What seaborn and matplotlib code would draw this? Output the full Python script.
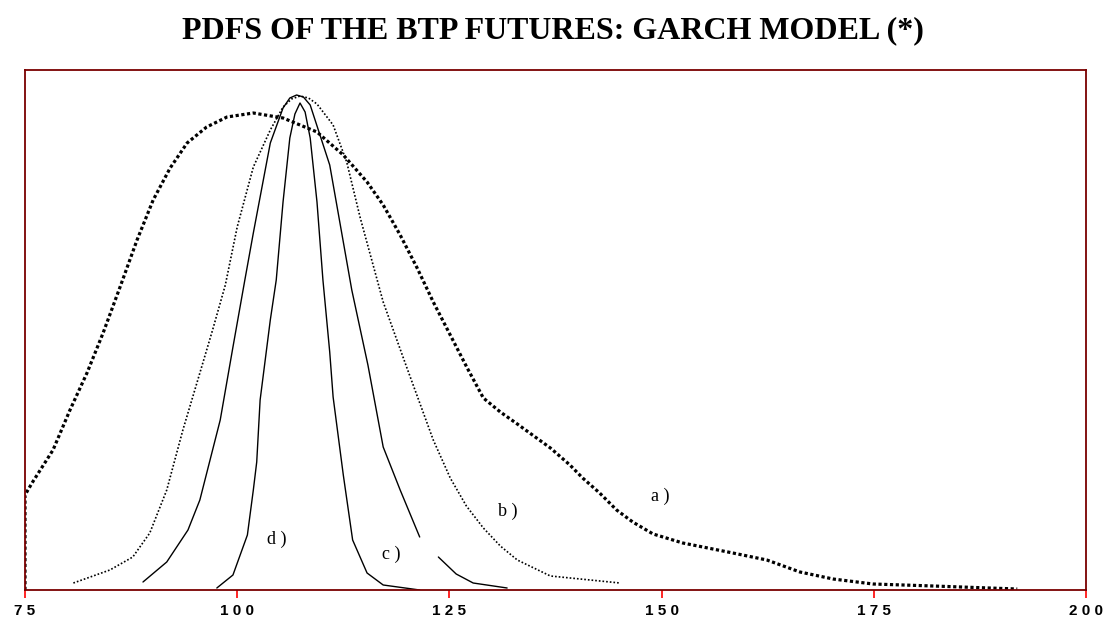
import pandas as pd
import numpy as np
import matplotlib.pyplot as plt
import seaborn as sns

# curves (x = price, y = density height, arbitrary units)
a_x = [75.0, 75.0, 75.9, 78.3, 80.3, 82.3, 84.2, 86.2, 88.2, 90.1, 92.1, 94.1, 96.4, 98.8, 101.9,
       105.4, 109.4, 112.5, 115.3, 117.2, 119.2, 121.2, 123.1, 125.1, 127.1, 129.0, 131.0, 133.0,
       136.9, 139.2, 140.7, 142.7, 144.7, 146.6, 149.0, 152.5, 158.4, 162.4, 166.3, 170.2, 174.9,
       182.0, 191.9]
a_y = [0, 95, 108, 140, 180, 217, 257, 303, 350, 390, 422, 447, 463, 473, 477,
       472, 458, 435, 408, 385, 355, 322, 288, 255, 222, 192, 178, 166,
       142, 125, 112, 97, 80, 68, 56, 47, 37, 30, 18, 11, 6,
       4, 1]

b_x = [80.7, 85.0, 87.7, 89.7, 91.7, 93.6, 95.6, 97.1, 98.6, 100.0, 101.9, 103.9, 105.4, 106.4,
       107.4, 108.4, 109.4, 111.3, 112.9, 114.5, 117.2, 120.0, 123.1, 125.1, 127.0, 129.0, 131.0,
       133.0, 136.9, 145.1]
b_y = [7, 20, 33, 57, 100, 160, 217, 260, 305, 363, 423, 460, 483, 491,
       494, 492, 486, 465, 428, 372, 288, 222, 150, 112, 84, 62, 44,
       30, 14, 7]

c_x = [88.9, 91.7, 94.2, 95.6, 97.1, 98.0, 99.5, 100.9, 101.9, 103.9, 105.4, 106.2, 107.0, 107.8,
       108.6, 110.9, 113.5, 115.4, 117.2, 119.2, 121.5, 123.7, 125.8, 127.8, 131.8]
c_y = [8, 28, 60, 90, 140, 170, 243, 310, 357, 447, 482, 492, 495, 493,
       485, 425, 300, 225, 143, 100, 53, 33, 16, 7, 2]
c_part = [1] * 21 + [2] * 4  # the curve is broken around the "c)" label

d_x = [97.6, 99.5, 101.2, 101.9, 102.3, 102.7, 103.9, 104.6, 105.4, 106.2, 106.8, 107.4, 108.0,
       108.6, 109.4, 110.1, 110.9, 111.3, 112.5, 113.6, 115.3, 117.2, 121.5]
d_y = [2, 15, 55, 100, 128, 190, 270, 310, 388, 452, 476, 487, 478,
       452, 388, 310, 238, 193, 115, 50, 17, 5, 0]

labels = ["a )", "b )", "c )", "d )"]
label_x = [149.8, 131.9, 118.2, 104.7]
label_y = [94, 79, 36, 51]

ticks = [75, 100, 125, 150, 175, 200]
tick_labels = [" ".join(str(t)) for t in ticks]

df_c = pd.DataFrame({"x": c_x, "y": c_y, "part": c_part})

sns.set_style("white")
fig = plt.figure(figsize=(11.05, 6.18), dpi=100)
ax = fig.add_axes([25 / 1105, 28 / 618, 1061 / 1105, 520 / 618])

sns.lineplot(x=a_x, y=a_y, sort=False, estimator=None, ax=ax, color="black",
             linewidth=2.3, linestyle=(0, (1, 0.8)))
sns.lineplot(x=b_x, y=b_y, sort=False, estimator=None, ax=ax, color="black",
             linewidth=1.2, linestyle=(0, (1, 1.2)))
sns.lineplot(data=df_c, x="x", y="y", units="part", sort=False, estimator=None, ax=ax,
             color="black", linewidth=1.0)
sns.lineplot(x=d_x, y=d_y, sort=False, estimator=None, ax=ax, color="black", linewidth=1.0)

for lab, lx, ly in zip(labels, label_x, label_y):
    ax.text(lx, ly, lab, family="Liberation Serif", fontsize=13, color="black",
            ha="center", va="center")

ax.set_xlim(75, 200)
ax.set_ylim(0, 520)
ax.set_xticks(ticks)
ax.set_xticklabels(tick_labels, family="Liberation Sans", fontweight="bold", fontsize=11,
                   color="black")
ax.set_yticks([])
ax.set_xlabel("")
ax.set_ylabel("")
ax.tick_params(axis="x", direction="out", length=6, width=1.2, color="red", pad=4, bottom=True)
for s in ax.spines.values():
    s.set_color("#7a0000")
    s.set_linewidth(1.3)

fig.suptitle("PDFS OF THE BTP FUTURES: GARCH MODEL (*)", family="Liberation Serif",
             fontweight="bold", fontsize=23, color="black", y=0.974)

plt.savefig("out.png", dpi=100)
